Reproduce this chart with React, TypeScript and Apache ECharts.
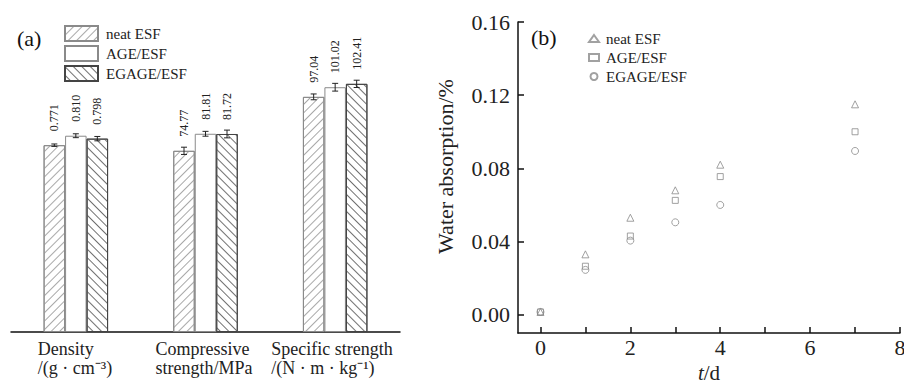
import React, { useEffect, useRef } from 'react';
import * as echarts from 'echarts';

const FONT = 'Liberation Serif';

// ---- Panel (a): bar data ----
const categoryLine1 = ['Density', 'Compressive', 'Specific strength'];
const categoryLine2 = ['/(g · cm⁻³)', 'strength/MPa', '/(N · m · kg⁻¹)'];
const neatESF = [0.771, 74.77, 97.04];
const ageESF = [0.81, 81.81, 101.02];
const egageESF = [0.798, 81.72, 102.41];
const neatErr = [0.005, 1.5, 1.2];
const ageErr = [0.008, 1.0, 1.6];
const egageErr = [0.009, 1.6, 1.5];
// density is drawn x100 so the three properties share one hidden axis
const displayScale = [100, 1, 1];
const decimals = [3, 2, 2];
const seriesNames = ['neat ESF', 'AGE/ESF', 'EGAGE/ESF'];

// ---- Panel (b): water absorption ----
const days = [0, 1, 2, 3, 4, 7];
const neatWater = [0.0015, 0.033, 0.053, 0.068, 0.082, 0.115];
const ageWater = [0.0015, 0.0265, 0.043, 0.0625, 0.0755, 0.1];
const egageWater = [0.0015, 0.0245, 0.0405, 0.0505, 0.06, 0.0895];
const yTicks = [0, 0.04, 0.08, 0.12, 0.16];
const xTicks = [0, 1, 2, 3, 4, 5, 6, 7, 8];
const xLabels = [0, 2, 4, 6, 8];

const BAR_W = 21.5;

function buildOption() {
  const values = [neatESF, ageESF, egageESF];
  const errs = [neatErr, ageErr, egageErr];
  const barStyles = [
    {
      color: '#ffffff',
      borderColor: '#8a8a8a',
      borderWidth: 1,
      decal: {
        symbol: 'rect',
        symbolSize: 1,
        dashArrayX: [1, 0],
        dashArrayY: [1, 5],
        rotation: -Math.PI / 4,
        color: '#a8a8a8',
        backgroundColor: '#ffffff',
      },
    },
    { color: '#ffffff', borderColor: '#8a8a8a', borderWidth: 1 },
    {
      color: '#ffffff',
      borderColor: '#444444',
      borderWidth: 1,
      decal: {
        symbol: 'rect',
        symbolSize: 1,
        dashArrayX: [1, 0],
        dashArrayY: [1, 5],
        rotation: Math.PI / 4,
        color: '#707070',
        backgroundColor: '#ffffff',
      },
    },
  ];

  const barSeries = values.map((vals, si) => ({
    type: 'bar',
    name: seriesNames[si],
    xAxisIndex: 0,
    yAxisIndex: 0,
    barWidth: BAR_W,
    barGap: '0%',
    data: vals.map((v, i) => v * displayScale[i]),
    itemStyle: barStyles[si],
    label: {
      show: true,
      position: 'top',
      distance: 14,
      rotate: 90,
      align: 'left',
      verticalAlign: 'middle',
      fontFamily: FONT,
      fontSize: 12,
      color: '#222',
      formatter: (p: any) => vals[p.dataIndex].toFixed(decimals[p.dataIndex]),
    },
    z: 2,
  }));

  const errSeries = values.map((vals, si) => ({
    type: 'custom',
    name: 'err' + si,
    xAxisIndex: 0,
    yAxisIndex: 0,
    z: 5,
    data: vals.map((v, i) => [
      i,
      (v - errs[si][i]) * displayScale[i],
      (v + errs[si][i]) * displayScale[i],
    ]),
    encode: { x: 0, y: [1, 2] },
    renderItem: (params: any, api: any) => {
      const idx = api.value(0);
      const lo = api.coord([idx, api.value(1)]);
      const hi = api.coord([idx, api.value(2)]);
      const cx = lo[0] + (si - 1) * BAR_W;
      const cap = 3;
      const style = { stroke: '#222', lineWidth: 1 };
      return {
        type: 'group',
        children: [
          { type: 'line', shape: { x1: cx, y1: lo[1], x2: cx, y2: hi[1] }, style },
          { type: 'line', shape: { x1: cx - cap, y1: lo[1], x2: cx + cap, y2: lo[1] }, style },
          { type: 'line', shape: { x1: cx - cap, y1: hi[1], x2: cx + cap, y2: hi[1] }, style },
        ],
      };
    },
  }));

  const scatterDefs = [
    { name: 'b: neat ESF', data: neatWater, symbol: 'triangle', size: 7 },
    { name: 'b: AGE/ESF', data: ageWater, symbol: 'rect', size: 6 },
    { name: 'b: EGAGE/ESF', data: egageWater, symbol: 'circle', size: 7 },
  ];
  const scatterSeries = scatterDefs.map((d) => ({
    type: 'scatter',
    name: d.name,
    xAxisIndex: 1,
    yAxisIndex: 1,
    symbol: d.symbol,
    symbolSize: d.size,
    data: days.map((t, i) => [t, d.data[i]]),
    itemStyle: { color: 'rgba(255,255,255,0)', borderColor: '#8a8a8a', borderWidth: 1 },
  }));

  const labelWidths = [76, 100, 128];
  const rich: any = {};
  labelWidths.forEach((w, i) => {
    rich['c' + i] = {
      width: w,
      align: 'left',
      fontFamily: FONT,
      fontSize: 18,
      lineHeight: 18.5,
      color: '#222',
    };
  });

  return {
    animation: false,
    backgroundColor: '#ffffff',
    textStyle: { fontFamily: FONT },
    grid: [
      { left: 11, right: 504, top: 17, bottom: 52, outerBoundsMode: 'none', containLabel: false },
      { left: 518, right: 4, top: 22, bottom: 51, outerBoundsMode: 'none', containLabel: false },
    ],
    xAxis: [
      {
        type: 'category',
        gridIndex: 0,
        data: categoryLine1,
        boundaryGap: true,
        axisLine: { lineStyle: { color: '#111', width: 1.5 } },
        axisTick: { alignWithLabel: true, inside: true, length: 7, lineStyle: { color: '#111', width: 1.5 } },
        axisLabel: {
          margin: 8,
          interval: 0,
          fontFamily: FONT,
          formatter: (v: string, i: number) =>
            `{c${i}|${categoryLine1[i]}}\n{c${i}|${categoryLine2[i]}}`,
          rich,
        },
      },
      {
        type: 'value',
        gridIndex: 1,
        min: -0.5,
        max: 8,
        splitLine: { show: false },
        axisLine: { onZero: false, lineStyle: { color: '#111', width: 1.5 } },
        axisTick: {
          inside: true,
          length: 6,
          customValues: xTicks,
          lineStyle: { color: '#111', width: 1.5 },
        },
        axisLabel: {
          customValues: xLabels,
          margin: 3,
          fontFamily: FONT,
          fontSize: 22,
          color: '#222',
          showMaxLabel: true,
        },
        name: '{i|t}/d',
        nameLocation: 'middle',
        nameGap: 24,
        nameTextStyle: {
          fontFamily: FONT,
          fontSize: 21,
          lineHeight: 21,
          color: '#222',
          rich: { i: { fontStyle: 'italic', fontFamily: FONT, fontSize: 21, lineHeight: 21, color: '#222' } },
        },
      },
    ],
    yAxis: [
      { type: 'value', gridIndex: 0, min: 0, max: 130, show: false },
      {
        type: 'value',
        gridIndex: 1,
        min: -0.01,
        max: 0.16,
        splitLine: { show: false },
        axisLine: { onZero: false, lineStyle: { color: '#111', width: 1.5 } },
        axisTick: {
          inside: true,
          length: 6,
          customValues: yTicks,
          lineStyle: { color: '#111', width: 1.5 },
        },
        axisLabel: {
          customValues: yTicks,
          margin: 8,
          fontFamily: FONT,
          fontSize: 22,
          color: '#222',
          formatter: (v: number) => v.toFixed(2),
        },
        name: 'Water absorption/%',
        nameLocation: 'middle',
        nameGap: 62,
        nameTextStyle: { fontFamily: FONT, fontSize: 22, color: '#222', padding: [0, 0, 0, 22] },
      },
    ],
    legend: [
      {
        data: seriesNames,
        orient: 'vertical',
        left: 64,
        top: 25,
        padding: 0,
        itemWidth: 33,
        itemHeight: 15,
        itemGap: 3,
        icon: 'rect',
        selectedMode: false,
        textStyle: { fontFamily: FONT, fontSize: 15, color: '#222', padding: [0, 0, 0, 3] },
      },
      {
        data: scatterDefs.map((d) => d.name),
        orient: 'vertical',
        left: 588,
        top: 31,
        padding: 0,
        itemWidth: 10,
        itemHeight: 7,
        itemGap: 4,
        selectedMode: false,
        formatter: (n: string) => n.replace('b: ', ''),
        textStyle: { fontFamily: FONT, fontSize: 15, color: '#222', padding: [0, 0, 0, 2] },
      },
    ],
    graphic: [
      {
        type: 'text',
        left: 17,
        top: 27,
        style: { text: '(a)', fontFamily: FONT, fontSize: 22, fill: '#111' },
      },
      {
        type: 'text',
        left: 531,
        top: 26,
        style: { text: '(b)', fontFamily: FONT, fontSize: 22, fill: '#111' },
      },
    ],
    series: [...barSeries, ...errSeries, ...scatterSeries],
  };
}

export default function App() {
  const ref = useRef<HTMLDivElement>(null);
  useEffect(() => {
    if (!ref.current) return;
    const chart = echarts.init(ref.current, null, { renderer: 'svg' });
    chart.setOption(buildOption() as any);
    return () => chart.dispose();
  }, []);
  return (
    <div
      ref={ref}
      style={{ position: 'fixed', left: 0, top: 0, width: 904, height: 384, background: '#fff' }}
    />
  );
}
